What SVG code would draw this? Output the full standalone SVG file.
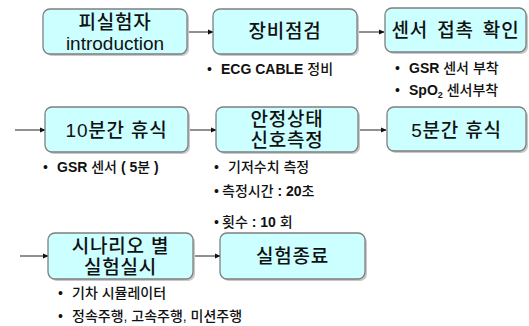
<svg xmlns="http://www.w3.org/2000/svg" width="529" height="326" viewBox="0 0 529 326">
<style>
.box{fill:#ccffff;stroke:#7f7f7f;stroke-width:1.3}
.sh{fill:#c8c8c8}
.t{font-family:"Liberation Sans","Noto Sans CJK KR",sans-serif;font-size:19px;fill:#111;text-anchor:middle;font-weight:500;letter-spacing:0.8px}
.tl{font-weight:normal;letter-spacing:0}
.b{font-family:"Liberation Sans","Noto Sans CJK KR",sans-serif;font-size:14px;fill:#111;font-weight:500}
.bb{font-weight:bold}
.c{stroke:#222;stroke-width:1;fill:none;marker-end:url(#ah)}
</style>
<defs>
<marker id="ah" viewBox="0 0 8 8" refX="7" refY="4" markerWidth="6" markerHeight="6" markerUnits="userSpaceOnUse" orient="auto">
<path d="M0,0.5 L8,4 L0,7.5 z" fill="#111"/>
</marker>
</defs>
<rect width="529" height="326" fill="#ffffff"/>
<g id="connectors">
<line class="c" x1="187" y1="32" x2="213" y2="32"/>
<line class="c" x1="357" y1="32" x2="384" y2="32"/>
<line class="c" x1="15" y1="130" x2="45" y2="130"/>
<line class="c" x1="188" y1="130" x2="216" y2="130"/>
<line class="c" x1="358" y1="130" x2="386" y2="130"/>
<line class="c" x1="20" y1="256" x2="48" y2="256"/>
<line class="c" x1="193" y1="256" x2="220" y2="256"/>
</g>
<g id="n1">
<rect class="sh" x="45" y="11" width="144" height="45" rx="7"/>
<rect class="box" x="43" y="9" width="144" height="45" rx="7"/>
<text class="t" x="115" y="29">피실험자</text>
<text class="t tl" x="115" y="50">introduction</text>
</g>
<g id="n2">
<rect class="sh" x="215" y="11" width="144" height="45" rx="7"/>
<rect class="box" x="213" y="9" width="144" height="45" rx="7"/>
<text class="t" x="285" y="38">장비점검</text>
<text class="b" x="207" y="74">•</text>
<text class="b" x="221" y="74"><tspan class="bb">ECG CABLE</tspan> 정비</text>
</g>
<g id="n3">
<rect class="sh" x="387" y="10" width="141" height="44" rx="7"/>
<rect class="box" x="385" y="8" width="141" height="44" rx="7"/>
<text class="t" x="455.5" y="37" word-spacing="3">센서 접촉 확인</text>
<text class="b" x="395" y="73">•</text>
<text class="b" x="409" y="73"><tspan class="bb">GSR</tspan> 센서 부착</text>
<text class="b" x="395" y="95">•</text>
<text class="b" x="409" y="95"><tspan class="bb">SpO</tspan><tspan class="bb" font-size="9" dy="3">2</tspan><tspan dy="-3"> 센서부착</tspan></text>
</g>
<g id="n4">
<rect class="sh" x="47" y="109" width="143" height="45" rx="7"/>
<rect class="box" x="45" y="107" width="143" height="45" rx="7"/>
<text class="t" x="116.5" y="137">10분간 휴식</text>
<text class="b" x="43" y="172">•</text>
<text class="b" x="57" y="172"><tspan class="bb">GSR</tspan> 센서 <tspan class="bb">( 5</tspan>분 <tspan class="bb">)</tspan></text>
</g>
<g id="n5">
<rect class="sh" x="218" y="109" width="142" height="45" rx="7"/>
<rect class="box" x="216" y="107" width="142" height="45" rx="7"/>
<text class="t" x="287" y="126">안정상태</text>
<text class="t" x="287" y="147">신호측정</text>
<text class="b" x="214" y="172">•</text>
<text class="b" x="228" y="172">기저수치 측정</text>
<text class="b" x="214" y="196">•</text>
<text class="b" x="222" y="196">측정시간 <tspan class="bb">: 20</tspan>초</text>
<text class="b" x="214" y="227">•</text>
<text class="b" x="222" y="227">횟수 <tspan class="bb">: 10</tspan> 회</text>
</g>
<g id="n6">
<rect class="sh" x="389" y="109" width="139" height="44" rx="7"/>
<rect class="box" x="387" y="107" width="139" height="44" rx="7"/>
<text class="t" x="456.5" y="137">5분간 휴식</text>
</g>
<g id="n7">
<rect class="sh" x="50" y="235" width="145" height="46" rx="7"/>
<rect class="box" x="48" y="233" width="145" height="46" rx="7"/>
<text class="t" x="120.5" y="253">시나리오 별</text>
<text class="t" x="120.5" y="274">실험실시</text>
<text class="b" x="58" y="298">•</text>
<text class="b" x="72" y="298">기차 시뮬레이터</text>
<text class="b" x="58" y="321">•</text>
<text class="b" x="72" y="321">정속주행, 고속주행, 미션주행</text>
</g>
<g id="n8">
<rect class="sh" x="222" y="235" width="145" height="46" rx="7"/>
<rect class="box" x="220" y="233" width="145" height="46" rx="7"/>
<text class="t" x="292.5" y="263">실험종료</text>
</g>
</svg>
